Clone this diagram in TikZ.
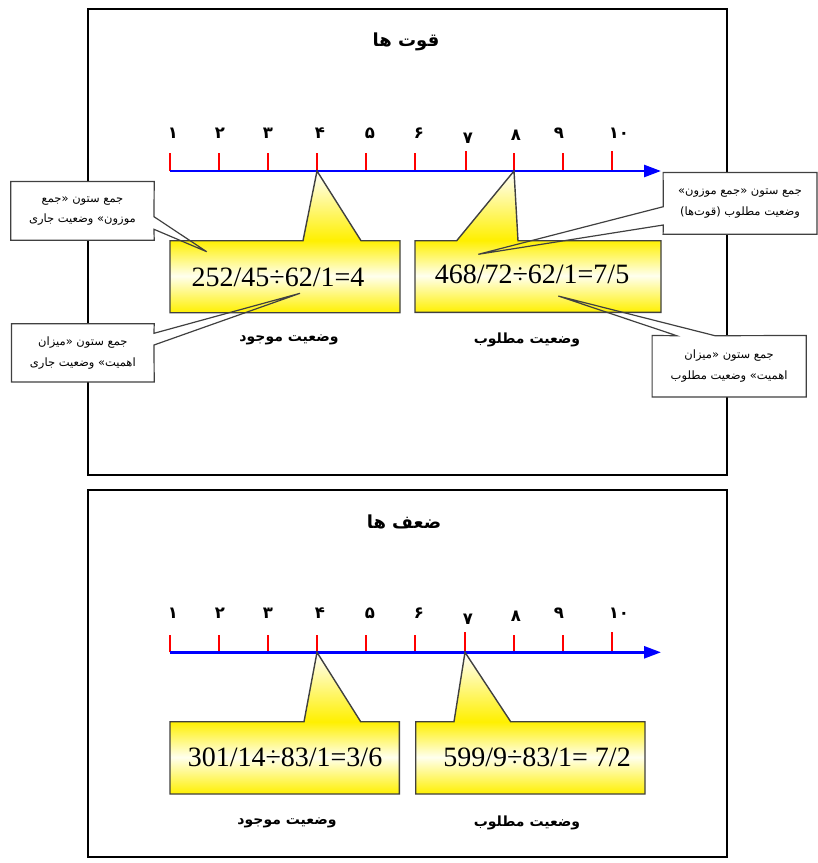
\documentclass[tikz,border=0pt]{standalone}
\usepackage{fontspec}
\usetikzlibrary{arrows.meta}
\setmainfont{Liberation Serif}
\newfontfamily\fafont[Script=Arabic]{DejaVu Sans}
\TeXXeTstate=1

\definecolor{calY}{HTML}{FFF000}
\definecolor{calPale}{HTML}{FFFFEE}
\definecolor{calEdge}{HTML}{404040}
\definecolor{axisBlue}{HTML}{0000FF}
\definecolor{tickRed}{HTML}{FF0000}

% yellow-white-yellow fill of the value callouts (box part lower half, pointer upper half)
\pgfdeclareverticalshading{yellowcallout}{100bp}{%
  color(0bp)=(calY); color(25bp)=(calY); color(38bp)=(calPale);
  color(50.5bp)=(calY); color(75bp)=(white); color(100bp)=(white)}

\begin{document}
\begin{tikzpicture}[x=1pt,y=-1pt,
  frame/.style={draw=black,line width=2pt},
  title/.style={font=\fafont\bfseries\fontsize{18}{20}\selectfont},
  numlabel/.style={font=\fafont\bfseries\fontsize{16.5}{18}\selectfont,inner sep=0pt},
  axisline/.style={draw=axisBlue,line width=2.6pt,-{Triangle[length=17pt,width=12pt]}},
  tickmark/.style={draw=tickRed,line width=2.4pt},
  valuebox/.style={shade,shading=yellowcallout,draw=calEdge,line width=1.4pt},
  eqn/.style={font=\fontsize{28}{30}\selectfont,inner sep=0pt},
  caption/.style={font=\fafont\bfseries\fontsize{14}{16}\selectfont},
  notebox/.style={fill=white,draw=none,inner sep=0pt,align=center,
    font=\fafont\fontsize{11.5}{20.5}\selectfont},
  noteedge/.style={draw=calEdge,line width=1.2pt,line join=miter}
]
\useasboundingbox (0,0) rectangle (818,863);

% ---------- frames ----------
\draw[frame] (88,9) rectangle (727,475);
\draw[frame] (88,490) rectangle (727,857);

\node[title] (titleS) at (406,42) {\beginR قوت ها\endR};
\node[title] (titleW) at (404,522) {\beginR ضعف ها\endR};

% ---------- upper scale ----------
\foreach \i/\x/\top in {1/170/153,2/219/153,3/268/153,4/317/153,5/366/153,
                        6/415/153,7/466/150.5,8/514/153,9/563/153,10/612/150.5}{
  \coordinate (a\i) at (\x,171);
  \coordinate (at\i) at (\x,\top);
}
\coordinate (aend) at (661,171);
\foreach \i in {1,...,10}{ \draw[tickmark] (a\i) -- (at\i); }
\draw[axisline] (a1) -- (aend);
\foreach \lab/\x/\y [count=\k] in {۱/173/133,۲/220/133,۳/268/133,۴/320/133,۵/370/133,
                        ۶/419/133,۷/468/138,۸/516/135,۹/559/133,۱۰/619/133}{
  \node[numlabel] (al\k) at (\x,\y) {\lab};
}

% ---------- lower scale ----------
\foreach \i/\x/\top in {1/170/635,2/219/635,3/268/635,4/317/635,5/366/635,
                        6/415/635,7/465/631.5,8/514/635,9/563/635,10/612/631.5}{
  \coordinate (b\i) at (\x,652.3);
  \coordinate (bt\i) at (\x,\top);
}
\coordinate (bend) at (661,652.3);
\foreach \i in {1,...,10}{ \draw[tickmark] (b\i) -- (bt\i); }
\draw[axisline] (b1) -- (bend);
\foreach \lab/\x/\y [count=\k] in {۱/173/613,۲/220/613,۳/268/613,۴/320/613,۵/370/613,
                        ۶/419/613,۷/468/619,۸/516/616,۹/559/613,۱۰/619/613}{
  \node[numlabel] (bl\k) at (\x,\y) {\lab};
}

% ---------- value callouts, strengths ----------
\path[valuebox] (170,240.7) -- (303,240.7) -- (a4) -- (361,240.7) -- (400,240.7)
  -- (400,312.7) -- (170,312.7) -- cycle;
\path[valuebox] (415,240.7) -- (456.7,240.7) -- (a8) -- (518,240.7) -- (661,240.7)
  -- (661,312.4) -- (415,312.4) -- cycle;
\node[eqn] (curS) at (278,277) {252/45÷62/1=4};
\node[eqn] (tgtS) at (532,274) {468/72÷62/1=7/5};
\node[caption] (capCurS) at (289,340) {\beginR وضعیت موجود\endR};
\node[caption] (capTgtS) at (527,340) {\beginR وضعیت مطلوب\endR};

% ---------- value callouts, weaknesses ----------
\path[valuebox] (170,721.7) -- (304,721.7) -- (b4) -- (360.7,721.7) -- (399.3,721.7)
  -- (399.3,794) -- (170,794) -- cycle;
\path[valuebox] (415.7,721.7) -- (454,721.7) -- (b7) -- (510.7,721.7) -- (645,721.7)
  -- (645,794) -- (415.7,794) -- cycle;
\node[eqn] (curW) at (285,757) {301/14÷83/1=3/6};
\node[eqn] (tgtW) at (537,757) {599/9÷83/1= 7/2};
\node[caption] (capCurW) at (287,823) {\beginR وضعیت موجود\endR};
\node[caption] (capTgtW) at (527,823) {\beginR وضعیت مطلوب\endR};

% ---------- note callouts ----------
\coordinate (tipA) at (206.7,251.7);
\coordinate (tipB) at (300,293.3);
\coordinate (tipC) at (478.3,254.3);
\coordinate (tipD) at (558.3,296);

\node[notebox,minimum width=143pt,minimum height=58.3pt] (noteA) at (82.5,210.9)
  {\beginR جمع ستون «جمع\endR\\\beginR موزون» وضعیت جاری\endR};
\draw[noteedge] (noteA.north west) -- (noteA.north east) -- (154,216.7) -- (tipA)
  -- (154,229.3) -- (noteA.south east) -- (noteA.south west) -- cycle;

\node[notebox,minimum width=142.3pt,minimum height=57.7pt] (noteB) at (82.85,352.85)
  {\beginR جمع ستون «میزان\endR\\\beginR اهمیت» وضعیت جاری\endR};
\draw[noteedge] (noteB.north west) -- (noteB.north east) -- (154,333.3) -- (tipB)
  -- (154,345) -- (noteB.south east) -- (noteB.south west) -- cycle;

\node[notebox,minimum width=153.4pt,minimum height=61.3pt] (noteC) at (740,203.35)
  {\beginR جمع ستون «جمع موزون»\endR\\\beginR وضعیت مطلوب (قوت‌ها)\endR};
\draw[noteedge] (noteC.north east) -- (noteC.north west) -- (663.3,206.7) -- (tipC)
  -- (663.3,225) -- (noteC.south west) -- (noteC.south east) -- cycle;

\node[notebox,minimum width=153.7pt,minimum height=61pt] (noteD) at (729.15,366.2)
  {\beginR جمع ستون «میزان\endR\\\beginR اهمیت» وضعیت مطلوب\endR};
\draw[noteedge] (noteD.north east) -- (715,335.7) -- (tipD) -- (676.7,335.7)
  -- (noteD.north west) -- (noteD.south west) -- (noteD.south east) -- cycle;
\end{tikzpicture}
\end{document}
